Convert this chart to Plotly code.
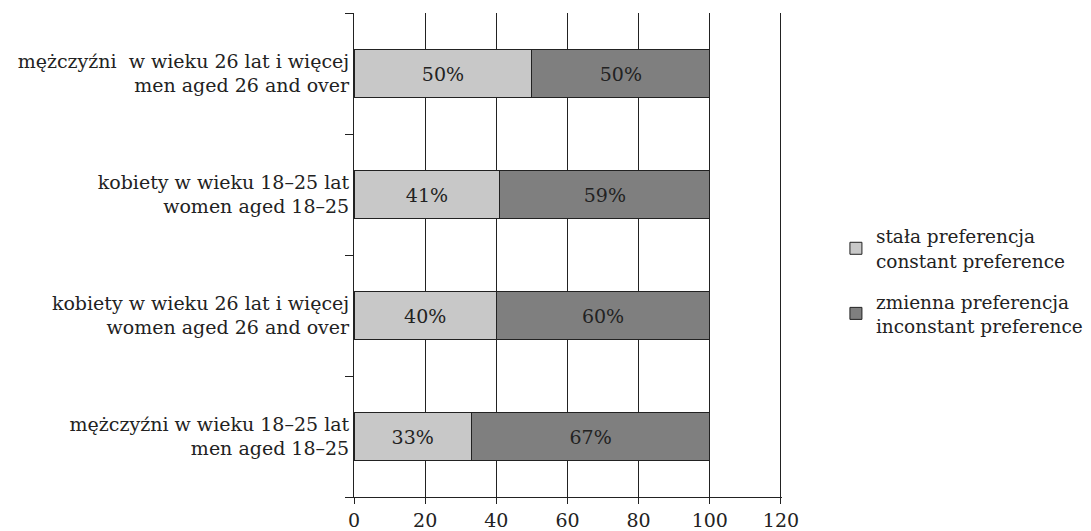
import plotly.graph_objects as go

categories = [
    "mężczyźni w wieku 18–25 lat<br>men aged 18–25",
    "kobiety w wieku 26 lat i więcej<br>women aged 26 and over",
    "kobiety w wieku 18–25 lat<br>women aged 18–25",
    "mężczyźni  w wieku 26 lat i więcej<br>men aged 26 and over",
]
constant = [33, 40, 41, 50]
inconstant = [67, 60, 59, 50]
series_names = [
    "stała preferencja<br>constant preference",
    "zmienna preferencja<br>inconstant preference",
]
x_ticks = [0, 20, 40, 60, 80, 100, 120]

FONT = "DejaVu Serif"
SIZE = 19
fig = go.Figure()
for i, (vals, name, color) in enumerate([(constant, series_names[0], "#c8c8c8"),
                                         (inconstant, series_names[1], "#7f7f7f")]):
    fig.add_trace(go.Bar(
        y=categories, x=vals, name=name, orientation="h",
        legendgroup=f"g{i}",
        marker=dict(color=color, line=dict(color="#222222", width=1)),
        text=[f"{v}%" for v in vals], textposition="inside",
        insidetextanchor="middle",
        textfont=dict(family=FONT, size=SIZE, color="#222222"),
        width=0.4,
    ))

# page body has an 8px default margin, so the figure is sized to fit inside
W, H = 1083, 523
L, T = 346, 5
PW, PH = 428, 484
fig.update_layout(
    barmode="stack",
    width=W, height=H,
    margin=dict(l=L, r=W - L - PW, t=T, b=H - T - PH, autoexpand=False),
    paper_bgcolor="white", plot_bgcolor="white",
    font=dict(family=FONT, size=SIZE, color="#222222"),
    showlegend=True,
    legend=dict(x=1.126, y=0.577, xanchor="left", yanchor="top",
                font=dict(family=FONT, size=18.5, color="#222222"),
                tracegroupgap=14, itemwidth=30, traceorder="grouped"),
    xaxis=dict(range=[0, 120.3], tickvals=x_ticks, showgrid=True,
               gridcolor="#222222", gridwidth=1, showline=True,
               linecolor="#222222", ticks="outside", ticklen=6,
               tickcolor="#222222", zeroline=False, automargin=False),
    yaxis=dict(type="category", tickson="boundaries", ticks="outside",
               ticklen=8, tickcolor="#222222", showline=True,
               linecolor="#222222", showgrid=False,
               range=[-0.5, 3.5], automargin=False),
    uniformtext=dict(mode="show", minsize=10),
)
fig.write_html("out.html")
